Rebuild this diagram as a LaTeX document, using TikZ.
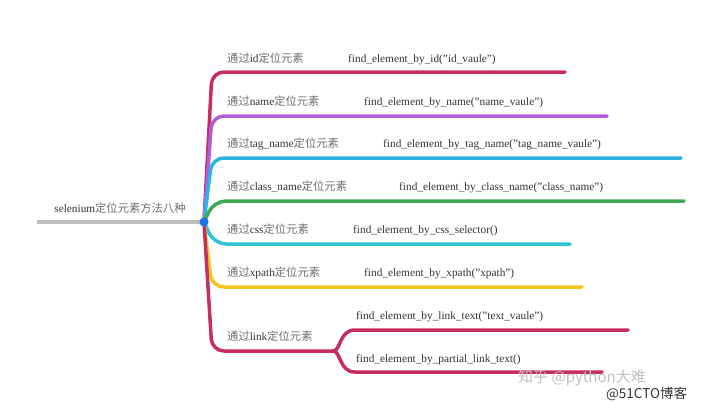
\documentclass[tikz,border=0pt]{standalone}
\usepackage{fontspec}
\setmainfont{Liberation Serif}
\newfontfamily\cjk{Noto Sans CJK SC}
\newcommand{\zh}[1]{{\cjk\color{txtcjk}#1}}

\definecolor{crimson}{RGB}{198,45,98}
\definecolor{violet}{RGB}{178,92,216}
\definecolor{skyblue}{RGB}{42,180,226}
\definecolor{leafgreen}{RGB}{62,168,84}
\definecolor{teal}{RGB}{44,196,212}
\definecolor{amber}{RGB}{244,196,34}
\definecolor{trunkgray}{RGB}{190,190,190}
\definecolor{dotblue}{RGB}{28,112,232}
\definecolor{txt}{RGB}{50,50,50}
\definecolor{txtcjk}{RGB}{110,110,110}

\tikzset{
  branch/.style={line width=3.5pt,line cap=round,rounded corners=12pt},
  lbl/.style={anchor=base west,inner sep=0pt,text=txt,font=\fontsize{11.3}{13}\selectfont},
  leaf/.style={anchor=base west,inner sep=0pt,text=txt,font=\fontsize{11.3}{13}\selectfont}
}

\begin{document}
\begin{tikzpicture}[x=1pt,y=-1pt]
		\useasboundingbox (0,0) rectangle (720,410);
		% root
		\coordinate (s) at (37,222);
		\coordinate (root) at (204,222);
		\node[lbl,anchor=base] (rl) at (120,212) {selenium\zh{定位元素方法八种}};
		\draw[line width=3.5pt,trunkgray] (s) -- (root);
		
		% id
		\coordinate (k1) at (212,72); \coordinate (e1) at (565,72);
		\draw[branch,crimson] (root) -- (k1) -- (e1);
		\node[lbl] (l1) at (227,62) {\zh{通过}id\zh{定位元素}};
		\node[leaf] (f1) at (348,62) {find\_element\_by\_id("id\_vaule")};
		
		% name
		\coordinate (k2) at (212,116); \coordinate (e2) at (607,116);
		\draw[branch,violet] (root) -- (k2) -- (e2);
		\node[lbl] (l2) at (227,105) {\zh{通过}name\zh{定位元素}};
		\node[leaf] (f2) at (364,105) {find\_element\_by\_name("name\_vaule")};
		
		% tag_name
		\coordinate (k3) at (212,158); \coordinate (e3) at (681,158);
		\draw[branch,skyblue] (root) -- (k3) -- (e3);
		\node[lbl] (l3) at (227,147) {\zh{通过}tag\_name\zh{定位元素}};
		\node[leaf] (f3) at (383,147) {find\_element\_by\_tag\_name("tag\_name\_vaule")};
		
		% class_name
		\coordinate (k4) at (214,201); \coordinate (e4) at (684,201);
		\draw[branch,leafgreen] (root) -- (k4) -- (e4);
		\node[lbl] (l4) at (227,190) {\zh{通过}class\_name\zh{定位元素}};
		\node[leaf] (f4) at (399,190) {find\_element\_by\_class\_name("class\_name")};
		
		% css
		\coordinate (k5) at (214,244); \coordinate (e5) at (570,244);
		\draw[branch,teal] (root) -- (k5) -- (e5);
		\node[lbl] (l5) at (227,233) {\zh{通过}css\zh{定位元素}};
		\node[leaf] (f5) at (353,233) {find\_element\_by\_css\_selector()};
		
		% xpath
		\coordinate (k6) at (212,287); \coordinate (e6) at (582,287);
		\draw[branch,amber] (root) -- (k6) -- (e6);
		\node[lbl] (l6) at (227,276) {\zh{通过}xpath\zh{定位元素}};
		\node[leaf] (f6) at (364,276) {find\_element\_by\_xpath("xpath")};
		
		% link
		\coordinate (k7) at (212,351); \coordinate (fk) at (333,351);
		\coordinate (t1) at (355,330); \coordinate (t2) at (628,330);
		\coordinate (b1) at (355,372); \coordinate (b2) at (602,372);
		\draw[branch,crimson] (root) -- (k7) -- (fk);
		\draw[line width=3.5pt,line cap=round,crimson] (fk) .. controls (341,351) and (339,330) .. (t1) -- (t2);
		\draw[line width=3.5pt,line cap=round,crimson] (fk) .. controls (341,351) and (339,372) .. (b1) -- (b2);
		\node[lbl] (l7) at (227,340) {\zh{通过}link\zh{定位元素}};
		\node[leaf] (f7) at (356,319) {find\_element\_by\_link\_text("text\_vaule")};
		\node[leaf] (f8) at (356,362) {find\_element\_by\_partial\_link\_text()};
		
		% hub dot on top
		\node[circle,fill=dotblue,inner sep=0pt,minimum size=9pt] (hub) at (root) {};
		
		% watermarks
		\node[anchor=base west,inner sep=0pt,text=black!25,font=\cjk\fontsize{15}{17}\selectfont] (wm1) at (518,382) {知乎 @python大难};
		\node[anchor=base west,inner sep=0pt,text=black!80,font=\cjk\fontsize{13.5}{15}\selectfont] (wm2) at (606,398) {@51CTO博客};
		\end{tikzpicture}
\end{document}
